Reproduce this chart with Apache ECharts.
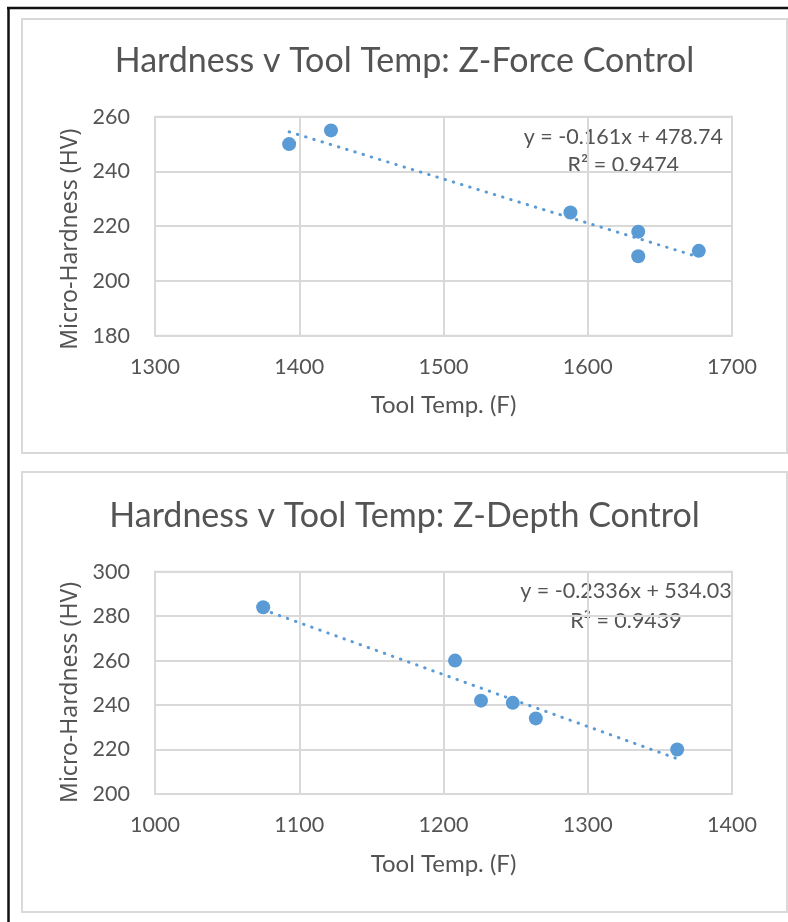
<!DOCTYPE html>
<html><head><meta charset="utf-8">
<script src="https://cdn.jsdelivr.net/npm/echarts@6/dist/echarts.min.js"></script>
<style>html,body{margin:0;padding:0;background:#fff;} #c{width:788px;height:922px;}</style>
</head><body><div id="c"></div>
<script>
// ---- Data: Z-Force Control ----
const forceTemp = [1393, 1422, 1588, 1635, 1635, 1677];
const forceHardness = [250, 255, 225, 218, 209, 211];
const forceTrend = [-0.161, 478.74];       // slope, intercept (from chart label)
const forceR2 = ['0.9474'];
const forceXTicks = [1300, 1400, 1500, 1600, 1700];
const forceYTicks = [180, 200, 220, 240, 260];

// ---- Data: Z-Depth Control ----
const depthTemp = [1075, 1208, 1226, 1248, 1264, 1362];
const depthHardness = [284, 260, 242, 241, 234, 220];
const depthTrend = [-0.2336, 534.03];
const depthR2 = ['0.9439'];
const depthXTicks = [1000, 1100, 1200, 1300, 1400];
const depthYTicks = [200, 220, 240, 260, 280, 300];

const titles = ['Hardness v Tool Temp: Z-Force Control', 'Hardness v Tool Temp: Z-Depth Control'];
const xName = 'Tool Temp. (F)';
const yName = 'Micro-Hardness (HV)';

const TXT = '#545454', GRID = '#D9D9D9', BLUE = '#5B9BD5';
const FONT = 'Lato, "Noto Sans", sans-serif';

function pts(xs, ys) { return xs.map((x, i) => [x, ys[i]]); }
function trendPts(xs, t) {
  const a = Math.min(...xs), b = Math.max(...xs);
  return [[a, t[0] * a + t[1]], [b, t[0] * b + t[1]]];
}
function fmtEq(t) {
  const s = t[0] < 0 ? '-' + Math.abs(t[0]) : String(t[0]);
  return 'y = ' + s + 'x + ' + t[1];
}
const plain = v => String(v);

function xAxis(idx, ticks) {
  return {
    type: 'value', gridIndex: idx, min: ticks[0], max: ticks[ticks.length - 1],
    interval: ticks[1] - ticks[0],
    name: xName, nameLocation: 'middle', nameGap: 58,
    nameTextStyle: { fontFamily: FONT, fontSize: 24, color: TXT },
    axisLine: { show: false }, axisTick: { show: false },
    axisLabel: { fontFamily: FONT, fontSize: 21.5, color: TXT, margin: 20, formatter: plain },
    splitLine: { show: true, lineStyle: { color: GRID, width: 2 } }
  };
}
function yAxis(idx, ticks, shift) {
  return {
    type: 'value', gridIndex: idx, min: ticks[0], max: ticks[ticks.length - 1],
    interval: ticks[1] - ticks[0],
    name: yName, nameLocation: 'middle', nameGap: 70, nameRotate: 90,
    nameTextStyle: { fontFamily: '"Noto Sans", sans-serif', fontSize: 23, color: TXT, padding: [0, shift, 0, 0] },
    axisLine: { show: false }, axisTick: { show: false },
    axisLabel: { fontFamily: FONT, fontSize: 21.5, color: TXT, margin: 25, formatter: plain },
    splitLine: { show: true, lineStyle: { color: GRID, width: 2 } }
  };
}
function scatter(idx, xs, ys) {
  return { type: 'scatter', xAxisIndex: idx, yAxisIndex: idx, data: pts(xs, ys),
    symbol: 'circle', symbolSize: 14, itemStyle: { color: BLUE, opacity: 1 }, z: 2 };
}
function trend(idx, xs, t) {
  return { type: 'line', xAxisIndex: idx, yAxisIndex: idx, data: trendPts(xs, t),
    symbol: 'none', silent: true, z: 3,
    lineStyle: { color: BLUE, width: 3, type: [0.5, 8.08], cap: 'round' } };
}
function eqText(x, y1, y2, t, r2) {
  const st = { fontFamily: FONT, fontSize: 21.5, fill: TXT, textAlign: 'center', textVerticalAlign: 'middle' };
  return [
    { type: 'text', x: x, y: y1, style: Object.assign({ text: fmtEq(t) }, st) },
    { type: 'text', x: x, y: y2, style: Object.assign({ text: 'R\u00B2 = ' + r2[0] }, st) }
  ];
}

const chart = echarts.init(document.getElementById('c'), null, { renderer: 'canvas' });
chart.setOption({
  animation: false,
  backgroundColor: '#fff',
  title: [
    { text: titles[0], left: 404.5, textAlign: 'center', top: 44, padding: 0,
      textStyle: { fontFamily: FONT, fontSize: 34, fontWeight: 'normal', color: TXT } },
    { text: titles[1], left: 404.5, textAlign: 'center', top: 499, padding: 0,
      textStyle: { fontFamily: FONT, fontSize: 34, fontWeight: 'normal', color: TXT } }
  ],
  grid: [
    { left: 155, top: 116.7, width: 577, height: 219, show: true, borderColor: GRID, borderWidth: 2 },
    { left: 155, top: 571.7, width: 577, height: 222.3, show: true, borderColor: GRID, borderWidth: 2 }
  ],
  xAxis: [xAxis(0, forceXTicks), xAxis(1, depthXTicks)],
  yAxis: [yAxis(0, forceYTicks, 26), yAxis(1, depthYTicks, 19)],
  series: [
    scatter(0, forceTemp, forceHardness), trend(0, forceTemp, forceTrend),
    scatter(1, depthTemp, depthHardness), trend(1, depthTemp, depthTrend)
  ],
  graphic: [
    { type: 'rect', shape: { x: 22, y: 19, width: 765, height: 434 }, style: { fill: 'none', stroke: GRID, lineWidth: 2 }, z: -1 },
    { type: 'rect', shape: { x: 22, y: 472, width: 765, height: 440 }, style: { fill: 'none', stroke: GRID, lineWidth: 2 }, z: -1 },
    { type: 'line', shape: { x1: 8.5, y1: 7, x2: 8.5, y2: 922 }, style: { stroke: '#111', lineWidth: 2.5 } },
    { type: 'line', shape: { x1: 7, y1: 8, x2: 788, y2: 8 }, style: { stroke: '#111', lineWidth: 2.5 } }
  ].concat(eqText(623.3, 137, 165.5, forceTrend, forceR2))
   .concat(eqText(626, 591, 620.8, depthTrend, depthR2))
});
</script>
</body></html>
